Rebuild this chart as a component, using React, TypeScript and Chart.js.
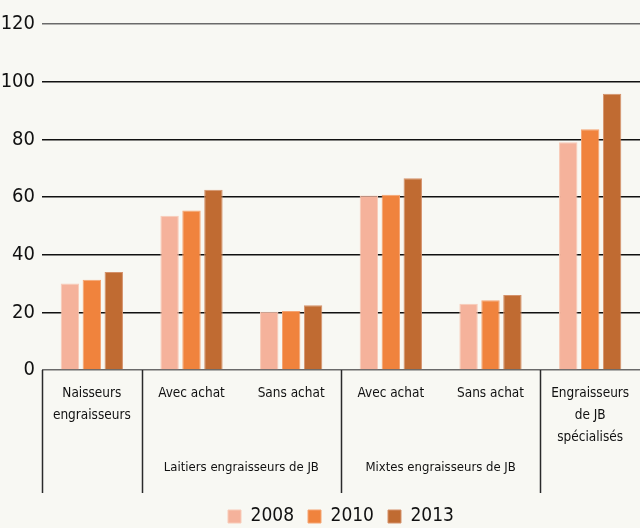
import React, { useEffect, useRef } from "react";
import { Chart, registerables } from "chart.js";

Chart.register(...registerables);

const categories: (string | string[])[] = [
  ["Naisseurs", "engraisseurs"],
  "Avec achat",
  "Sans achat",
  "Avec achat",
  "Sans achat",
  ["Engraisseurs", "de JB", "spécialisés"],
];
const groupLabels = ["Laitiers engraisseurs de JB", "Mixtes engraisseurs de JB"];
const groupFirst = [1, 3];
const groupLast = [2, 4];
const dividerBefore = [0, 1, 3, 5];

const years = ["2008", "2010", "2013"];
const values2008 = [30, 53.5, 20.2, 60.5, 23, 79];
const values2010 = [31.3, 55.3, 20.5, 60.8, 24.2, 83.5];
const values2013 = [34, 62.5, 22.5, 66.5, 26, 95.8];
const yTicks = [0, 20, 40, 60, 80, 100, 120];

const FONT = '"DejaVu Sans Condensed", "Liberation Sans Narrow", "Liberation Sans", sans-serif';
const TEXT = "#111111";

const groupPlugin = {
  id: "groupPlugin",
  afterLayout(chart: any) {
    const lg = chart.legend;
    if (lg) {
      lg.top += 8;
      lg.bottom += 8;
    }
  },
  afterDraw(chart: any) {
    const x = chart.scales.x;
    const area = chart.chartArea;
    const ctx = chart.ctx;
    const half = (x.getPixelForValue(1) - x.getPixelForValue(0)) / 2;
    ctx.save();
    ctx.strokeStyle = "#2a2a2a";
    ctx.lineWidth = 1.5;
    dividerBefore.forEach((i) => {
      const px = Math.round(x.getPixelForValue(i) - half) + 0.5;
      ctx.beginPath();
      ctx.moveTo(px, area.bottom);
      ctx.lineTo(px, area.bottom + 123);
      ctx.stroke();
    });
    ctx.fillStyle = TEXT;
    ctx.font = "13px " + FONT;
    ctx.textAlign = "center";
    ctx.textBaseline = "middle";
    groupLabels.forEach((label, k) => {
      const cx = (x.getPixelForValue(groupFirst[k]) + x.getPixelForValue(groupLast[k])) / 2;
      ctx.fillText(label, cx, area.bottom + 98);
    });
    ctx.restore();
  },
};

export default function App() {
  const ref = useRef<HTMLCanvasElement | null>(null);
  useEffect(() => {
    document.body.style.margin = "0";
    const chart = new Chart(ref.current as HTMLCanvasElement, {
      type: "bar",
      data: {
        labels: categories,
        datasets: [
          { label: years[0], data: values2008, backgroundColor: "#F5B29B", borderColor: "#F8CBB8", borderWidth: 1 },
          { label: years[1], data: values2010, backgroundColor: "#F0833D", borderColor: "#F5A472", borderWidth: 1 },
          { label: years[2], data: values2013, backgroundColor: "#C06B32", borderColor: "#D4916A", borderWidth: 1 },
        ],
      },
      options: {
        animation: false,
        responsive: true,
        maintainAspectRatio: false,
        layout: { padding: { top: 24, left: 0, right: 0, bottom: 0 } },
        datasets: { bar: { categoryPercentage: 0.66, barPercentage: 0.84 } },
        plugins: {
          tooltip: { enabled: false },
          legend: {
            position: "bottom",
            fullSize: false,
            labels: {
              boxWidth: 13,
              boxHeight: 13,
              padding: 14,
              color: TEXT,
              font: { family: FONT, size: 19 },
            },
          },
        },
        scales: {
          x: {
            grid: { display: false },
            border: { display: false },
            ticks: {
              color: TEXT,
              font: { family: FONT, size: 13.5, lineHeight: 1.63 },
              padding: 4,
              maxRotation: 0,
              autoSkip: false,
            },
            afterFit: (scale: any) => {
              scale.height = 115;
              scale.paddingLeft = 0;
              scale.paddingRight = 0;
            },
          },
          y: {
            min: 0,
            max: 120,
            afterBuildTicks: (scale: any) => {
              scale.ticks = yTicks.map((v) => ({ value: v }));
            },
            afterFit: (scale: any) => {
              scale.width = 42;
            },
            border: { display: false },
            grid: {
              drawTicks: false,
              lineWidth: 1.5,
              color: (c: any) => (c.tick && (c.tick.value === 120 || c.tick.value === 0) ? "#6a6a6a" : "#111111"),
            },
            ticks: {
              color: TEXT,
              padding: 7,
              font: { family: FONT, size: 20 },
            },
          },
        },
      },
      plugins: [groupPlugin],
    } as any);
    return () => chart.destroy();
  }, []);
  return (
    <div style={{ width: 640, height: 528, background: "#F8F8F3", position: "relative" }}>
      <canvas ref={ref} />
    </div>
  );
}
